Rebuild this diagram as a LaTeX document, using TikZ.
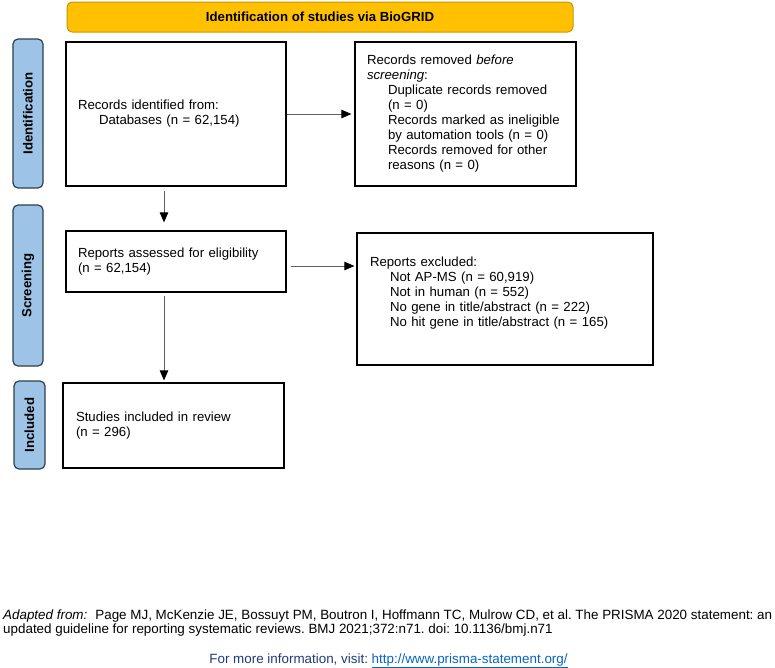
\documentclass[tikz,border=0pt]{standalone}
\usepackage{fontspec}
\setmainfont{Liberation Sans}
\usetikzlibrary{arrows.meta,calc}
\definecolor{hdrfill}{HTML}{FFC000}
\definecolor{hdrline}{HTML}{C99400}
\definecolor{labfill}{HTML}{9DC3E6}
\definecolor{labline}{HTML}{2F3F4F}
\definecolor{arrline}{HTML}{606060}
\definecolor{navytext}{HTML}{1F3A78}
\definecolor{linkblue}{HTML}{0563C1}
\frenchspacing
\begin{document}
\begin{tikzpicture}[x=1pt,y=-1pt,
  every node/.style={font=\fontsize{13.2}{15}\selectfont},
  flowbox/.style={draw=black, line width=1.2pt, fill=white, align=left,
    inner xsep=12pt, inner ysep=2pt, anchor=center},
  sidelab/.style={draw=labline, line width=1.2pt, fill=labfill, rounded corners=5pt,
    rotate=90, font=\fontsize{13.2}{15}\selectfont\bfseries, inner sep=0pt, anchor=center},
  hdr/.style={draw=hdrline, line width=1pt, fill=hdrfill, rounded corners=5pt,
    font=\fontsize{13.2}{15}\selectfont\bfseries, inner sep=0pt, anchor=center},
  arr/.style={draw=arrline, line width=0.9pt, -{Triangle[length=10pt,width=8.5pt,fill=black,color=black]}},
  foot/.style={font=\fontsize{13.4}{15}\selectfont, inner sep=0pt, anchor=base west}
]
\useasboundingbox (0,0) rectangle (775,667);

% header
\node[hdr, minimum width=506pt, minimum height=30pt] (hdr) at (320,17) {Identification of studies via BioGRID};

% side labels
\node[sidelab, minimum width=149pt, minimum height=30pt] (labA) at (28,113.5) {Identification};
\node[sidelab, minimum width=161pt, minimum height=30pt] (labB) at (28,285.5) {Screening};
\node[sidelab, minimum width=88pt, minimum height=31pt] (labC) at (29.5,425) {Included};

% boxes
\node[flowbox, minimum width=220pt, minimum height=144pt, text width=196pt] (ident) at (176,114)
  {Records identified from:\\\hspace*{21pt}Databases (n = 62,154)};
\node[flowbox, minimum width=221pt, minimum height=144pt, text width=197pt] (removed) at (465.5,114)
  {Records removed \textit{before}\\
   \textit{screening}:\\
   \hspace*{21pt}Duplicate records removed\\
   \hspace*{21pt}(n = 0)\\
   \hspace*{21pt}Records marked as ineligible\\
   \hspace*{21pt}by automation tools (n = 0)\\
   \hspace*{21pt}Records removed for other\\
   \hspace*{21pt}reasons (n = 0)};
\node[flowbox, minimum width=220pt, minimum height=61pt, text width=196pt] (assessed) at (176,261.5)
  {Reports assessed for eligibility\\(n = 62,154)};
\node[flowbox, minimum width=296pt, minimum height=132pt, text width=270pt, inner xsep=13pt] (excluded) at (505,299)
  {Reports excluded:\\
   \hspace*{20pt}Not AP-MS (n = 60,919)\\
   \hspace*{20pt}Not in human (n = 552)\\
   \hspace*{20pt}No gene in title/abstract (n = 222)\\
   \hspace*{20pt}No hit gene in title/abstract (n = 165)\\
   \mbox{}};
\node[flowbox, minimum width=221pt, minimum height=85pt, text width=195pt, inner xsep=13pt] (studies) at (173.5,425.5)
  {Studies included in review\\(n = 296)};

% connectors
\draw[arr] (ident.east) -- ([xshift=-3pt]removed.west);
\draw[arr] ([xshift=4pt,yshift=-4.5pt]assessed.east) -- ([xshift=-2pt,yshift=-4.5pt]assessed.east -| excluded.west);
\draw[arr] ([xshift=-12pt,yshift=-4pt]ident.south) -- ([xshift=-12pt,yshift=8pt]assessed.north);
\draw[arr] ([xshift=-12pt,yshift=-3pt]assessed.south) -- ([xshift=-9.5pt,yshift=2pt]studies.north);

% footer
\node[foot] (footA) at (3,619) {\textit{Adapted from:}\hspace{0.6em}Page MJ, McKenzie JE, Bossuyt PM, Boutron I, Hoffmann TC, Mulrow CD, et al. The PRISMA 2020 statement: an};
\node[foot] (footB) at (3,633.5) {updated guideline for reporting systematic reviews. BMJ 2021;372:n71. doi: 10.1136/bmj.n71};
\node[foot, anchor=base] (footC) at (388.5,663) {\color{navytext}For more information, visit: \color{linkblue}\underline{http://www.prisma-statement.org/}};
\end{tikzpicture}
\end{document}
